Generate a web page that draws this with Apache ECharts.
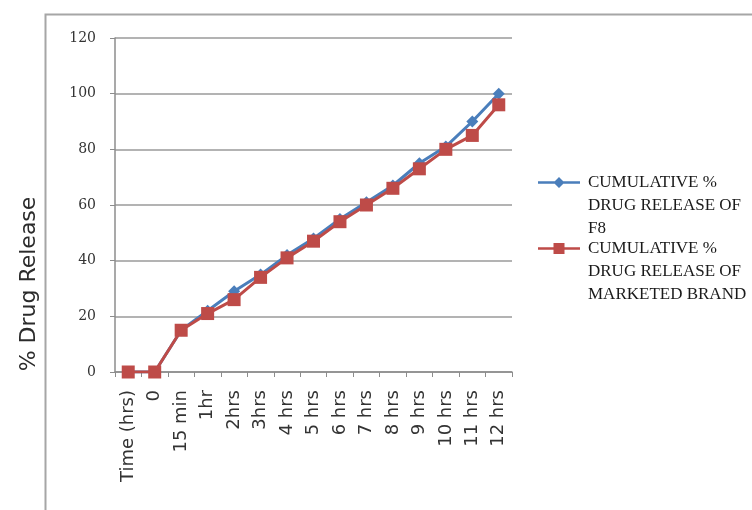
<!DOCTYPE html>
<html>
<head>
<meta charset="utf-8">
<script src="https://cdn.jsdelivr.net/npm/echarts@6/dist/echarts.min.js"></script>
<style>
  html, body { margin: 0; padding: 0; background: #fff; }
  #chart { width: 752px; height: 510px; }
</style>
</head>
<body>
<div id="chart"></div>
<script>
// Sampling times
const categories = ['Time (hrs)', '0', '15 min', '1hr', '2hrs', '3hrs', '4 hrs', '5 hrs',
  '6 hrs', '7 hrs', '8 hrs', '9 hrs', '10 hrs', '11 hrs', '12 hrs'];
// Cumulative % drug release
const f8Release = [0, 0, 15, 22, 29, 35, 42, 48, 55, 61, 67, 75, 81, 90, 100];
const marketedRelease = [0, 0, 15, 21, 26, 34, 41, 47, 54, 60, 66, 73, 80, 85, 96];
const yTicks = [0, 20, 40, 60, 80, 100, 120];

const seriesNames = [
  'CUMULATIVE %\nDRUG RELEASE OF\nF8',
  'CUMULATIVE %\nDRUG RELEASE OF\nMARKETED BRAND'
];

// Legend keys: a short line with the marker, sitting level with the first text line.
// The two hairline sub-paths pin the icon's bounding box to the full item size.
const LEGEND_W = 45, LEGEND_LINE_H = 23, LEGEND_H = LEGEND_LINE_H * 3;
const frame = `M0,0 L0.01,0 Z M${LEGEND_W},${LEGEND_H} L${LEGEND_W - 0.01},${LEGEND_H} Z `;
const cy = LEGEND_LINE_H / 2;
const keyLine = `M0,${cy - 1.3} L42,${cy - 1.3} L42,${cy + 1.3} L0,${cy + 1.3} Z `;
const diamondIcon = 'path://' + frame + keyLine +
  `M21,${cy - 5.5} L26.5,${cy} L21,${cy + 5.5} L15.5,${cy} Z`;
const squareIcon = 'path://' + frame + keyLine +
  `M15.5,${cy - 5.5} L26.5,${cy - 5.5} L26.5,${cy + 5.5} L15.5,${cy + 5.5} Z`;

const chart = echarts.init(document.getElementById('chart'), null, { renderer: 'canvas' });

chart.setOption({
  backgroundColor: '#ffffff',
  animation: false,
  graphic: [
    {
      type: 'rect',
      shape: { x: 45.5, y: 14.5, width: 800, height: 600 },
      style: { fill: 'none', stroke: '#a6a6a6', lineWidth: 2 },
      silent: true
    },
    {
      type: 'text',
      x: 29, y: 284,
      rotation: Math.PI / 2,
      style: {
        text: '% Drug Release',
        font: '22px "DejaVu Sans", sans-serif',
        fill: '#2b2b2b',
        align: 'center',
        verticalAlign: 'middle'
      }
    }
  ],
  legend: {
    orient: 'vertical',
    left: 538,
    top: 171,
    itemWidth: LEGEND_W,
    itemHeight: LEGEND_H,
    itemGap: -3,
    padding: 0,
    data: [
      { name: seriesNames[0], icon: diamondIcon },
      { name: seriesNames[1], icon: squareIcon }
    ],
    itemStyle: { borderWidth: 0 },
    textStyle: {
      fontFamily: '"Liberation Serif", "DejaVu Serif", serif',
      fontSize: 17,
      color: '#1a1a1a',
      lineHeight: LEGEND_LINE_H
    }
  },
  grid: { left: 115, top: 38, right: 240, bottom: 138 },
  xAxis: {
    type: 'category',
    data: categories,
    boundaryGap: true,
    axisLine: { lineStyle: { color: '#8c8c8c', width: 1.5 } },
    axisTick: { show: true, length: 5, interval: 0, lineStyle: { color: '#8c8c8c' } },
    axisLabel: {
      interval: 0,
      rotate: 90,
      margin: 18,
      fontFamily: '"DejaVu Sans", sans-serif',
      fontSize: 18,
      color: '#333333'
    }
  },
  yAxis: {
    type: 'value',
    min: yTicks[0],
    max: yTicks[yTicks.length - 1],
    interval: yTicks[1] - yTicks[0],
    axisLine: { show: true, lineStyle: { color: '#8c8c8c', width: 1.5 } },
    axisTick: { show: true, length: 5, lineStyle: { color: '#8c8c8c' } },
    axisLabel: {
      margin: 19,
      fontFamily: '"DejaVu Serif", "Liberation Serif", serif',
      fontSize: 14,
      color: '#333333'
    },
    splitLine: { show: true, lineStyle: { color: '#9a9a9a', width: 1.5 } }
  },
  series: [
    {
      name: seriesNames[0],
      type: 'line',
      data: f8Release,
      symbol: 'diamond',
      symbolSize: 12,
      itemStyle: { color: '#4a7ebb' },
      lineStyle: { color: '#4a7ebb', width: 3 }
    },
    {
      name: seriesNames[1],
      type: 'line',
      data: marketedRelease,
      symbol: 'rect',
      symbolSize: 13,
      itemStyle: { color: '#be4b48' },
      lineStyle: { color: '#be4b48', width: 3 }
    }
  ]
});
</script>
</body>
</html>
